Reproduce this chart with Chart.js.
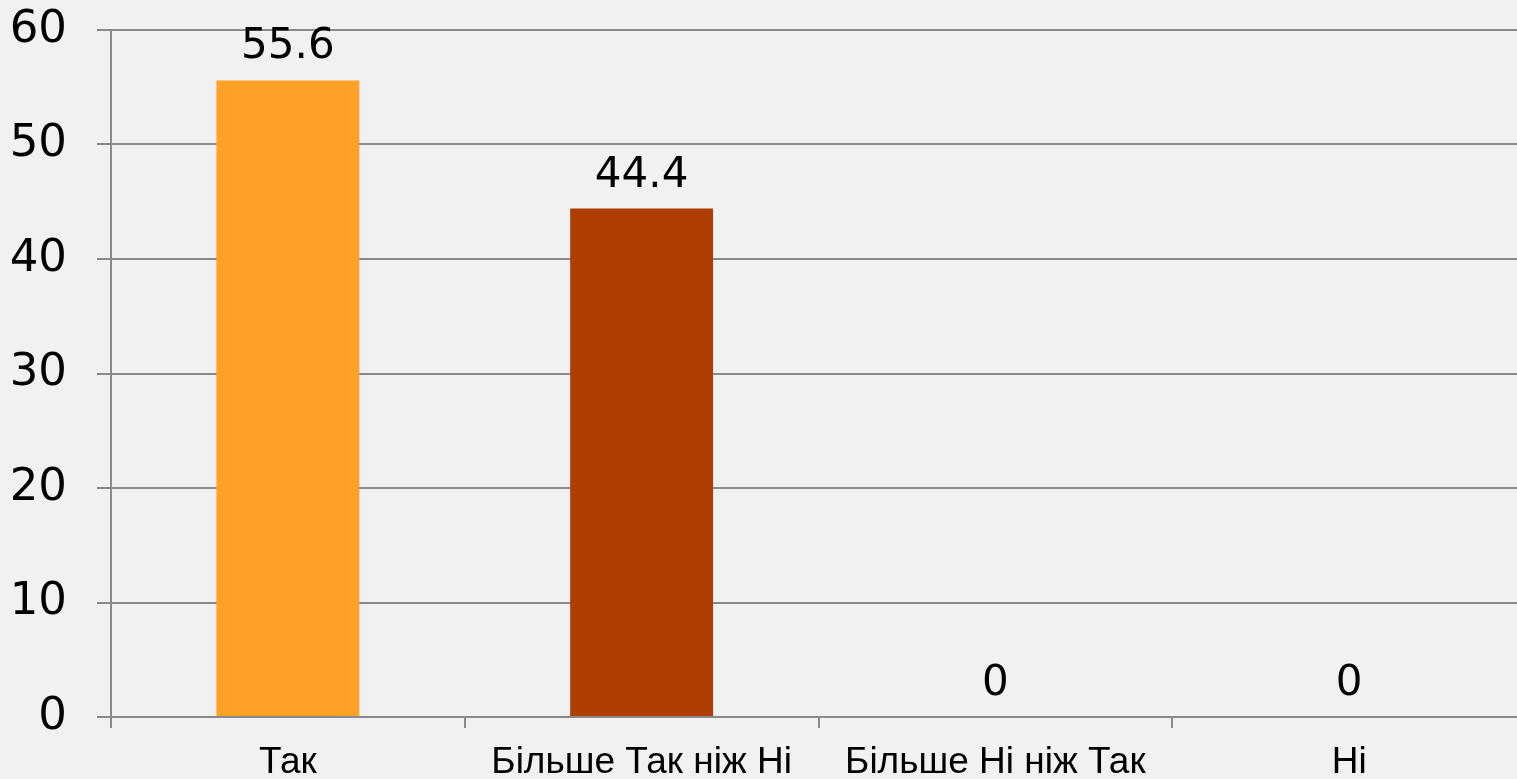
<!DOCTYPE html>
<html>
<head>
<meta charset="utf-8">
<script src="https://cdn.jsdelivr.net/npm/chart.js@4.4.1/dist/chart.umd.min.js"></script>
<style>
  html, body { margin: 0; padding: 0; overflow: hidden; background: #F1F1F1; }
  #wrap { position: absolute; left: 0; top: 0; width: 1526px; height: 779px; }
</style>
</head>
<body>
<div id="wrap"><canvas id="c" width="1526" height="779"></canvas></div>
<script>
const categories = ['Так', 'Більше Так ніж Ні', 'Більше Ні ніж Так', 'Ні'];
const values = [55.6, 44.4, 0, 0];
const barColors = ['#FFA126', '#B03E02', '#A0A0A0', '#A0A0A0'];
const yTicks = [0, 10, 20, 30, 40, 50, 60];

const FONT = '"DejaVu Sans", sans-serif';
const XFONT = '"Liberation Sans", Arial, sans-serif';
const GRID = '#8A8A8A';

const valueLabels = {
  id: 'valueLabels',
  afterDatasetsDraw(chart) {
    const ctx = chart.ctx;
    const meta = chart.getDatasetMeta(0);
    ctx.save();
    ctx.font = '42px ' + FONT;
    ctx.fillStyle = '#000000';
    ctx.textAlign = 'center';
    ctx.textBaseline = 'alphabetic';
    meta.data.forEach((bar, i) => {
      ctx.fillText(String(values[i]), bar.x, bar.y - 22);
    });
    ctx.restore();
  }
};

new Chart(document.getElementById('c'), {
  type: 'bar',
  data: {
    labels: categories,
    datasets: [{
      data: values,
      backgroundColor: barColors,
      borderWidth: 0,
      categoryPercentage: 1,
      barPercentage: 0.404
    }]
  },
  options: {
    responsive: false,
    animation: false,
    devicePixelRatio: 1,
    layout: { padding: { top: 30, left: 0, right: 0, bottom: 0 } },
    plugins: { legend: { display: false }, tooltip: { enabled: false }, title: { display: false } },
    scales: {
      x: {
        offset: true,
        grid: { display: true, drawOnChartArea: false, drawTicks: true, tickLength: 11, offset: true, color: GRID, lineWidth: 2 },
        border: { display: true, color: GRID, width: 2 },
        ticks: { color: '#000000', font: { family: XFONT, size: 37 }, padding: 13, maxRotation: 0, autoSkip: false },
        afterFit(scale) { scale.height = 62; }
      },
      y: {
        min: 0, max: 60,
        afterBuildTicks(scale) { scale.ticks = yTicks.map(v => ({ value: v })); },
        grid: { color: GRID, lineWidth: 2, drawTicks: true, tickLength: 14 },
        border: { display: true, color: GRID, width: 2 },
        ticks: { color: '#000000', font: { family: FONT, size: 45 }, padding: 30 },
        afterFit(scale) { scale.width = 111; scale.paddingTop = 0; scale.paddingBottom = 0; }
      }
    }
  },
  plugins: [valueLabels]
});
</script>
</body>
</html>
